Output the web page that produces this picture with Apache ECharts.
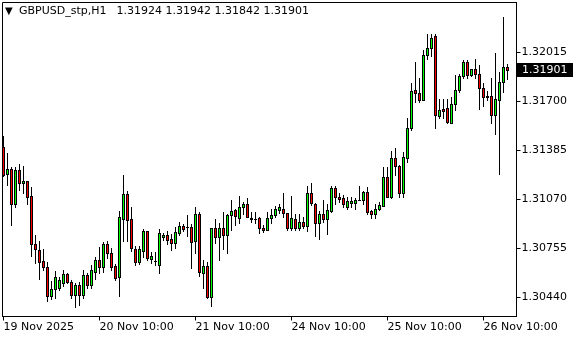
<!DOCTYPE html>
<html><head><meta charset="utf-8">
<script src="https://cdn.jsdelivr.net/npm/echarts@6/dist/echarts.min.js"></script>
<style>html,body{margin:0;padding:0;background:#fff}#c{width:580px;height:340px}</style>
</head><body><div id="c"></div>
<script>
const opens = [
1.31406,1.31237,1.31263,1.31044,1.31258,1.31173,1.31188,1.31091,1.30787,1.30744,
1.30674,1.30637,1.30450,1.30492,1.30503,1.30534,1.30594,1.30537,1.30455,1.30519,
1.30455,1.30584,1.30519,1.30605,1.30684,1.30639,1.30783,1.30723,1.30641,1.30571,
1.30947,1.31104,1.30942,1.30755,1.30669,1.30741,1.30866,1.30690,1.30675,1.30648,
1.30826,1.30841,1.30813,1.30791,1.30855,1.30897,1.30893,1.30894,1.30804,1.30976,
1.30598,1.30641,1.30444,1.30884,1.30830,1.30890,1.30845,1.30969,1.31001,1.30954,
1.31019,1.31044,1.30954,1.30944,1.30954,1.30884,1.30877,1.30954,1.30969,1.31001,
1.31012,1.30984,1.30888,1.30942,1.30890,1.30926,1.30900,1.31109,1.31044,1.30916,
1.30976,1.30944,1.30997,1.31147,1.31087,1.31077,1.31023,1.31048,1.31048,1.31070,
1.31070,1.31117,1.30995,1.30974,1.31006,1.31029,1.31212,1.31083,1.31340,1.31286,
1.31113,1.31340,1.31527,1.31773,1.31755,1.31708,1.31998,1.32047,1.32120,1.31606,
1.31649,1.31655,1.31563,1.31683,1.31773,1.31863,1.31955,1.31869,1.31906,1.31876,
1.31784,1.31734,1.31734,1.31612,1.31708,1.31826,1.31924];
const closes = [
1.31226,1.31263,1.31044,1.31258,1.31173,1.31188,1.31088,1.30787,1.30749,1.30669,
1.30637,1.30450,1.30492,1.30569,1.30551,1.30590,1.30540,1.30455,1.30519,1.30455,
1.30584,1.30519,1.30620,1.30684,1.30639,1.30787,1.30725,1.30635,1.30564,1.30956,
1.31104,1.30937,1.30760,1.30670,1.30749,1.30866,1.30697,1.30709,1.30673,1.30854,
1.30841,1.30812,1.30791,1.30860,1.30899,1.30882,1.30896,1.30798,1.30976,1.30605,
1.30641,1.30444,1.30884,1.30830,1.30884,1.30845,1.30969,1.30997,1.30963,1.31019,
1.31044,1.30958,1.30944,1.30946,1.30884,1.30873,1.30954,1.30969,1.31006,1.31019,
1.30984,1.30888,1.30948,1.30890,1.30926,1.30900,1.31109,1.31048,1.30916,1.30976,
1.30944,1.31001,1.31147,1.31083,1.31074,1.31040,1.31059,1.31059,1.31070,1.31069,
1.31117,1.30990,1.30974,1.31012,1.31034,1.31212,1.31087,1.31340,1.31286,1.31113,
1.31342,1.31527,1.31768,1.31755,1.31708,1.31998,1.32047,1.32111,1.31612,1.31644,
1.31638,1.31569,1.31683,1.31777,1.31863,1.31955,1.31869,1.31906,1.31876,1.31784,
1.31726,1.31726,1.31612,1.31713,1.31826,1.31924,1.31901];
const lows = [
1.31220,1.31165,1.30905,1.31023,1.31130,1.31111,1.31040,1.30706,1.30663,1.30560,
1.30616,1.30418,1.30429,1.30439,1.30487,1.30513,1.30532,1.30434,1.30376,1.30395,
1.30434,1.30504,1.30500,1.30562,1.30596,1.30603,1.30693,1.30616,1.30551,1.30452,
1.30804,1.30804,1.30740,1.30648,1.30654,1.30702,1.30680,1.30664,1.30648,1.30598,
1.30809,1.30783,1.30744,1.30757,1.30841,1.30866,1.30834,1.30630,1.30723,1.30577,
1.30498,1.30436,1.30384,1.30791,1.30684,1.30749,1.30723,1.30873,1.30905,1.30916,
1.30980,1.30955,1.30926,1.30916,1.30852,1.30862,1.30873,1.30916,1.30958,1.30984,
1.30958,1.30877,1.30877,1.30873,1.30873,1.30884,1.30868,1.31034,1.30834,1.30813,
1.30926,1.30847,1.30990,1.31044,1.31055,1.31023,1.31012,1.31019,1.31012,1.31066,
1.31040,1.30980,1.30954,1.30948,1.31001,1.31029,1.31083,1.31077,1.31226,1.31083,
1.31087,1.31312,1.31516,1.31698,1.31698,1.31708,1.31976,1.31991,1.31527,1.31597,
1.31597,1.31559,1.31559,1.31644,1.31762,1.31854,1.31854,1.31863,1.31854,1.31649,
1.31670,1.31709,1.31563,1.31490,1.31237,1.31762,1.31842];
const highs = [
1.31477,1.31366,1.31280,1.31276,1.31297,1.31284,1.31190,1.31149,1.30841,1.30802,
1.30755,1.30669,1.30547,1.30611,1.30571,1.30618,1.30596,1.30555,1.30532,1.30540,
1.30616,1.30596,1.30648,1.30701,1.30765,1.30798,1.30802,1.30760,1.30654,1.30993,
1.31226,1.31124,1.31025,1.30770,1.30773,1.30882,1.30870,1.30733,1.30731,1.30879,
1.30854,1.30866,1.30847,1.30892,1.30924,1.30911,1.30969,1.30911,1.31019,1.30990,
1.30684,1.30667,1.30886,1.30942,1.30920,1.30990,1.30980,1.31070,1.31012,1.31091,
1.31055,1.31077,1.30990,1.30990,1.30956,1.30905,1.30990,1.31012,1.31027,1.31044,
1.31113,1.30986,1.31091,1.30980,1.30980,1.30958,1.31156,1.31173,1.31048,1.30997,
1.31070,1.31040,1.31156,1.31156,1.31109,1.31098,1.31087,1.31087,1.31077,1.31156,
1.31125,1.31151,1.31001,1.31040,1.31055,1.31280,1.31280,1.31383,1.31398,1.31291,
1.31376,1.31597,1.31816,1.31955,1.31848,1.32030,1.32133,1.32133,1.32133,1.31713,
1.31713,1.31719,1.31730,1.31869,1.31876,1.31966,1.31966,1.31912,1.31970,1.31933,
1.31816,1.31768,1.31848,1.32012,1.31890,1.32240,1.31942];
const tickIndex = [0, 24, 48, 72, 96, 120];
const tickLabels = ['19 Nov 2025', '20 Nov 10:00', '21 Nov 10:00', '24 Nov 10:00', '25 Nov 10:00', '26 Nov 10:00'];
const priceTicks = [1.30440, 1.30755, 1.31070, 1.31385, 1.31700, 1.32015];
const lastPrice = 1.31901;
const symbolText = 'GBPUSD_stp,H1';
const ohlcText = '1.31924 1.31942 1.31842 1.31901';
const yMin = 1.303179, yMax = 1.323364;
const xMin = -0.25, xMax = 128.25;

const FONT = 'DejaVu Sans';
const BULL = '#00ff00', BEAR = '#ff0000';
const candles = opens.map((o, i) => [i, o, closes[i], lows[i], highs[i]]);

function px(x, y, w, h, fill, z2) {
  return {type: 'rect', shape: {x: x, y: y, width: w, height: h}, style: {fill: fill, stroke: null, lineWidth: 0}, z2: z2};
}
function renderCandle(params, api) {
  const i = api.value(0);
  const o = api.value(1), c = api.value(2);
  const pO = api.coord([i, o]);
  const yC = api.coord([i, c])[1];
  const yL = Math.round(api.coord([i, api.value(3)])[1]);
  const yH = Math.round(api.coord([i, api.value(4)])[1]);
  const n = Math.floor(pO[0]);
  const top = Math.round(Math.min(pO[1], yC));
  const bot = Math.round(Math.max(pO[1], yC));
  const ch = [];
  if (top > yH) ch.push(px(n, yH, 1, top - yH, '#000', 1));
  if (yL > bot) ch.push(px(n, bot + 1, 1, yL - bot, '#000', 1));
  if (bot - top >= 2) {
    ch.push(px(n - 1, top, 1, bot - top + 1, '#000', 2));
    ch.push(px(n + 1, top, 1, bot - top + 1, '#000', 2));
    ch.push(px(n, top, 1, 1, '#000', 2));
    ch.push(px(n, bot, 1, 1, '#000', 2));
    ch.push(px(n, top + 1, 1, bot - top - 1, c >= o ? BULL : BEAR, 5));
  } else {
    ch.push(px(n - 1, top, 3, bot - top + 1, '#000', 2));
  }
  return {type: 'group', children: ch};
}

const chart = echarts.init(document.getElementById('c'), null, {renderer: 'canvas', width: 580, height: 340});
chart.setOption({
  animation: false,
  backgroundColor: '#ffffff',
  title: {
    left: 5, top: 6, padding: 0,
    text: '{tri|▼}{sym|' + symbolText + '}{ohlc|' + ohlcText + '}',
    textStyle: {
      fontWeight: 'normal',
      rich: {
        tri: {fontSize: 10, width: 14, color: '#000', fontFamily: FONT, fontWeight: 'normal'},
        sym: {fontSize: 11, color: '#000', fontFamily: FONT, fontWeight: 'normal', padding: [0, 10, 0, 0]},
        ohlc: {fontSize: 11, color: '#000', fontFamily: FONT, fontWeight: 'normal'}
      }
    }
  },
  grid: {left: 2.5, top: 2.5, right: 580 - 516.5, bottom: 340 - 316.5, show: true, borderColor: '#000', borderWidth: 1, backgroundColor: 'transparent'},
  xAxis: {
    type: 'value', min: xMin, max: xMax,
    axisLine: {show: true, onZero: false, lineStyle: {color: '#000'}},
    axisTick: {show: true, customValues: tickIndex, length: 4, lineStyle: {color: '#000'}},
    axisLabel: {customValues: tickIndex, formatter: (v) => tickLabels[tickIndex.indexOf(Math.round(v))] || '', align: 'left', margin: 5, color: '#000', fontFamily: FONT, fontSize: 11},
    splitLine: {show: false}
  },
  yAxis: {
    type: 'value', position: 'right', min: yMin, max: yMax,
    axisLine: {show: true, onZero: false, lineStyle: {color: '#000'}},
    axisTick: {show: true, customValues: priceTicks, length: 4, lineStyle: {color: '#000'}},
    axisLabel: {customValues: priceTicks, formatter: (v) => Number(v).toFixed(5), margin: 5, color: '#000', fontFamily: FONT, fontSize: 11},
    splitLine: {show: false}
  },
  series: [{
    type: 'custom', data: candles, renderItem: renderCandle,
    encode: {x: 0, y: [1, 2, 3, 4]}, clip: true, silent: true
  }]
});
const py = Math.round(chart.convertToPixel({yAxisIndex: 0}, lastPrice));
const gx = chart.convertToPixel({xAxisIndex: 0}, xMax);
chart.setOption({
  graphic: [
    {type: 'rect', shape: {x: Math.round(gx), y: py - 7, width: 56, height: 14}, style: {fill: '#000'}, silent: true},
    {type: 'text', x: Math.round(gx) + 5, y: py, style: {text: lastPrice.toFixed(5), fill: '#fff', font: '11px "DejaVu Sans"', verticalAlign: 'middle', align: 'left'}, silent: true}
  ]
});
</script>
</body></html>
